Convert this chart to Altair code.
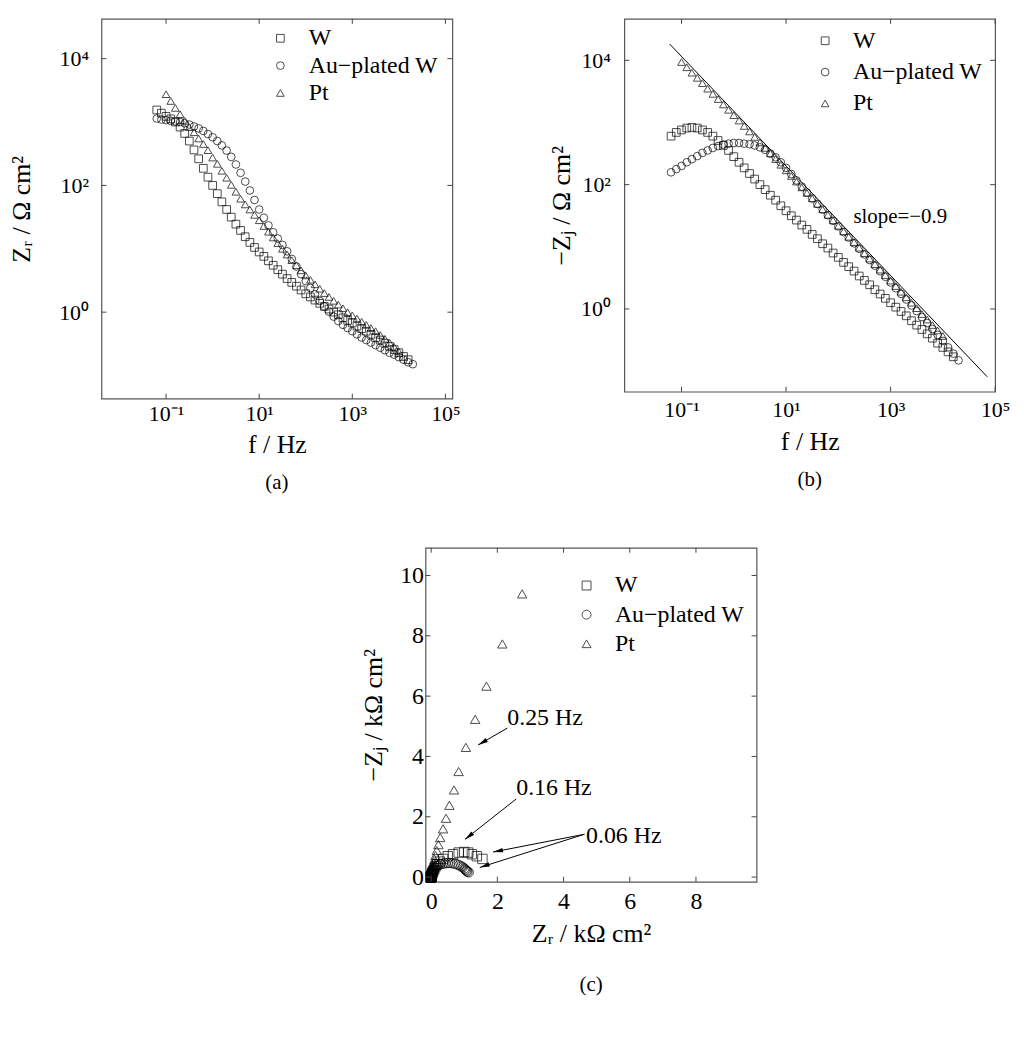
import altair as alt
import pandas as pd

FONT = "Liberation Serif"
SERIES = ["W", "Au−plated W", "Pt"]
SHAPES = ["square", "circle", "triangle-up"]

# frequencies, Hz (10 points per decade)
FREQ = [0.0631, 0.0794, 0.1, 0.126, 0.158, 0.200, 0.251, 0.316, 0.398, 0.501, 0.631, 0.794,
        1.00, 1.26, 1.58, 2.00, 2.51, 3.16, 3.98, 5.01, 6.31, 7.94,
        10.0, 12.6, 15.8, 20.0, 25.1, 31.6, 39.8, 50.1, 63.1, 79.4,
        100, 126, 158, 200, 251, 316, 398, 501, 631, 794,
        1000, 1259, 1585, 1995, 2512, 3162, 3981, 5012, 6310, 7943,
        10000, 12589, 15849, 19953]
FREQ_W = FREQ[0:55]
FREQ_AU = FREQ[0:56]
FREQ_PT = FREQ[2:53]

# W (ohm cm^2)
ZR_W = [1549, 1380, 1230, 1122, 1000, 832, 661, 501, 363, 263, 186, 135,
        100, 74.1, 55.0, 41.7, 31.6, 24.5, 19.5, 15.5, 12.6, 10.5,
        8.91, 7.59, 6.46, 5.50, 4.68, 3.98, 3.39, 2.95, 2.57, 2.24,
        1.95, 1.74, 1.55, 1.38, 1.23, 1.12, 1.00, 0.912, 0.813, 0.741,
        0.676, 0.603, 0.550, 0.501, 0.447, 0.398, 0.363, 0.324, 0.288, 0.257,
        0.229, 0.200, 0.178]
ZJ_W = [603, 692, 759, 813, 832, 813, 759, 692, 603, 513, 427, 355,
        282, 229, 186, 151, 123, 100, 83.2, 67.6, 56.2, 45.7,
        38.0, 31.6, 26.9, 22.4, 19.1, 15.8, 13.5, 11.2, 9.55, 7.94,
        6.76, 5.62, 4.79, 4.07, 3.39, 2.88, 2.45, 2.04, 1.74, 1.48,
        1.26, 1.07, 0.912, 0.776, 0.646, 0.550, 0.468, 0.398, 0.339, 0.282,
        0.240, 0.204, 0.170]

# Au-plated W
ZR_AU = [1135, 1096, 1072, 1047, 1023, 1000, 955, 912, 851, 794, 724, 646,
         575, 501, 427, 355, 282, 214, 158, 115, 83.2, 58.9,
         41.7, 30.9, 23.4, 18.2, 14.5, 11.5, 9.12, 6.92, 5.25, 3.98,
         3.09, 2.40, 1.91, 1.51, 1.23, 1.02, 0.851, 0.724, 0.631, 0.562,
         0.501, 0.447, 0.398, 0.363, 0.331, 0.302, 0.275, 0.251, 0.229, 0.214,
         0.195, 0.178, 0.162, 0.151]
ZJ_AU = [158, 178, 200, 229, 257, 288, 324, 355, 389, 417, 442, 457,
         468, 468, 457, 447, 427, 398, 363, 316, 275, 229,
         186, 148, 117, 92.9, 74.6, 60.1, 48.9, 39.7, 32.3, 26.2,
         21.3, 17.3, 14.1, 11.4, 9.29, 7.55, 6.14, 4.98, 4.05, 3.29,
         2.67, 2.16, 1.75, 1.42, 1.14, 0.925, 0.741, 0.594, 0.476, 0.382,
         0.306, 0.241, 0.191, 0.149]

# Pt
ZR_PT = [2750, 2150, 1670, 1330, 1050, 830, 690, 550, 450, 360,
         275, 219, 170, 132, 102, 79.4, 61.7, 50.1, 41.7, 34.3,
         28.2, 22.9, 18.6, 15.1, 12.3, 10.0, 8.13, 6.61, 5.50, 4.57,
         3.80, 3.24, 2.75, 2.34, 2.00, 1.74, 1.51, 1.32, 1.15, 1.00,
         0.891, 0.794, 0.708, 0.631, 0.562, 0.501, 0.437, 0.380, 0.331, 0.282,
         0.240]
ZJ_PT = [9390, 7730, 6330, 5230, 4300, 3500, 2890, 2380, 1950, 1600,
         1310, 1075, 880, 718, 586, 478, 390, 318, 258, 209,
         170, 138, 112, 90.4, 73.6, 60.1, 49.1, 40.1, 32.7, 26.7,
         21.8, 17.8, 14.5, 11.9, 9.68, 7.91, 6.46, 5.26, 4.30, 3.51,
         2.86, 2.34, 1.89, 1.54, 1.26, 1.03, 0.828, 0.676, 0.552, 0.451,
         0.368]

# slope = -0.9 guide line (panel b)
SLOPE_F = [0.0593, 70800]
SLOPE_Z = [18280, 0.081]
SLOPE_TEXT = ["slope=−0.9"]
SLOPE_TEXT_F = [1531]
SLOPE_TEXT_Z = [30.1]

# Nyquist annotations (panel c), kOhm cm^2
NOTE_TEXT = ["0.25 Hz", "0.16 Hz", "0.06 Hz"]
NOTE_X = [2.30, 2.57, 4.68]
NOTE_Y = [5.27, 2.96, 1.36]
ARROW_X1 = [2.30, 2.57, 4.63, 4.63]
ARROW_Y1 = [4.94, 2.59, 1.42, 1.42]
ARROW_X2 = [1.42, 1.02, 1.87, 1.47]
ARROW_Y2 = [4.38, 1.25, 0.83, 0.32]
ARROW_ANGLE = [240, 232, 259, 252]

XLOG_TICKS = [0.1, 10, 1000, 100000]
YLOG_TICKS = [1, 100, 10000]
XC_TICKS = [0, 2, 4, 6, 8]
YC_TICKS = [0, 2, 4, 6, 8, 10]

rows = []
for name, fs, zr, zj in [(SERIES[0], FREQ_W, ZR_W, ZJ_W),
                         (SERIES[1], FREQ_AU, ZR_AU, ZJ_AU),
                         (SERIES[2], FREQ_PT, ZR_PT, ZJ_PT)]:
    assert len(fs) == len(zr) == len(zj), (name, len(fs), len(zr), len(zj))
    for f, r, j in zip(fs, zr, zj):
        rows.append({"series": name, "f": f, "zr": r, "zj": j,
                     "zr_k": r / 1000.0, "zj_k": j / 1000.0})
df = pd.DataFrame(rows)

LOG_LABELS = ("datum.value < 0.5 ? '10⁻¹' : datum.value < 5 ? '10⁰' : "
              "datum.value < 50 ? '10¹' : datum.value < 500 ? '10²' : "
              "datum.value < 5000 ? '10³' : datum.value < 50000 ? '10⁴' : '10⁵'")

shape_scale = alt.Scale(domain=SERIES, range=SHAPES)
TICK_LEN = 5
LABEL_FS = 22
TITLE_FS = 26


def legend(x, y, row_pad, label_offset, size):
    return alt.Legend(title=None, orient="none", legendX=x, legendY=y,
                      labelFont=FONT, labelFontSize=24, labelColor="black",
                      symbolSize=size, symbolStrokeWidth=1, symbolStrokeColor="black",
                      symbolFillColor="transparent", rowPadding=row_pad,
                      labelOffset=label_offset, padding=0)


def frame_ticks(xvals, yvals, xscale, yscale, xaxis, yaxis, w, h):
    tx = pd.DataFrame({"v": xvals})
    ty = pd.DataFrame({"v": yvals})
    sty = dict(color="#444", strokeWidth=1)
    xe = alt.X("v:Q", scale=xscale, axis=xaxis)
    ye = alt.Y("v:Q", scale=yscale, axis=yaxis)
    return [
        alt.Chart(tx).mark_rule(**sty).encode(x=xe, y=alt.value(h), y2=alt.value(h - TICK_LEN)),
        alt.Chart(tx).mark_rule(**sty).encode(x=xe, y=alt.value(0), y2=alt.value(TICK_LEN)),
        alt.Chart(ty).mark_rule(**sty).encode(y=ye, x=alt.value(0), x2=alt.value(TICK_LEN)),
        alt.Chart(ty).mark_rule(**sty).encode(y=ye, x=alt.value(w), x2=alt.value(w - TICK_LEN)),
    ]


def caption(txt, offset):
    return alt.TitleParams(txt, orient="bottom", font=FONT, fontSize=21,
                           fontWeight="normal", color="black", offset=offset, anchor="middle")


def x_axis(title, values, expr, lpad, tpad, lfs=LABEL_FS):
    kw = dict(values=values, title=title, labelFlush=False, labelOverlap=False,
              labelPadding=lpad, titlePadding=tpad, labelFontSize=lfs)
    if expr:
        kw["labelExpr"] = expr
    return alt.Axis(**kw)


def y_axis(title, values, expr, lpad, tpad, lfs=LABEL_FS):
    kw = dict(values=values, title=title, labelOverlap=False,
              labelPadding=lpad, titlePadding=tpad, labelFontSize=lfs)
    if expr:
        kw["labelExpr"] = expr
    return alt.Axis(**kw)


# ---------- panel (a) ----------
WA, HA = 353, 382
xa = alt.Scale(type="log", domain=[0.00409, 141000], nice=False)
ya = alt.Scale(type="log", domain=[0.0432, 42400], nice=False)
xa_axis = x_axis("f / Hz", XLOG_TICKS, LOG_LABELS, 5, 7.5)
ya_axis = y_axis("Zᵣ / Ω cm²", YLOG_TICKS, LOG_LABELS, 13, 24)
pts_a = alt.Chart(df).mark_point(filled=False, color="black", strokeWidth=1, size=60).encode(
    x=alt.X("f:Q", scale=xa, axis=xa_axis),
    y=alt.Y("zr:Q", scale=ya, axis=ya_axis),
    shape=alt.Shape("series:N", scale=shape_scale, legend=legend(168, 7.5, 3.5, 16.5, 60)),
)
panel_a = alt.layer(pts_a, *frame_ticks(XLOG_TICKS, YLOG_TICKS, xa, ya, xa_axis, ya_axis, WA, HA)).properties(
    width=WA, height=HA, title=caption("(a)", 14.5))

# ---------- panel (b) ----------
WB, HB = 373, 375
xb = alt.Scale(type="log", domain=[0.00805, 100000], nice=False)
yb = alt.Scale(type="log", domain=[0.0467, 46400], nice=False)
xb_axis = x_axis("f / Hz", XLOG_TICKS, LOG_LABELS, 8, 7.7)
yb_axis = y_axis("−Zⱼ / Ω cm²", YLOG_TICKS, LOG_LABELS, 14, 6)
pts_b = alt.Chart(df).mark_point(filled=False, color="black", strokeWidth=1, size=60).encode(
    x=alt.X("f:Q", scale=xb, axis=xb_axis),
    y=alt.Y("zj:Q", scale=yb, axis=yb_axis),
    shape=alt.Shape("series:N", scale=shape_scale, legend=legend(190, 10, 7.5, 16, 60)),
)
slope_line = alt.Chart(pd.DataFrame({"f": SLOPE_F, "z": SLOPE_Z})).mark_line(
    color="black", strokeWidth=1).encode(x=alt.X("f:Q", scale=xb, axis=xb_axis),
                                         y=alt.Y("z:Q", scale=yb, axis=yb_axis))
slope_txt = alt.Chart(pd.DataFrame({"t": SLOPE_TEXT, "f": SLOPE_TEXT_F, "z": SLOPE_TEXT_Z})).mark_text(
    font=FONT, fontSize=21, color="black", align="center", baseline="middle").encode(
    x=alt.X("f:Q", scale=xb, axis=xb_axis), y=alt.Y("z:Q", scale=yb, axis=yb_axis), text="t:N")
panel_b = alt.layer(pts_b, slope_line, slope_txt,
                    *frame_ticks(XLOG_TICKS, YLOG_TICKS, xb, yb, xb_axis, yb_axis, WB, HB)).properties(
    width=WB, height=HB, title=caption("(b)", 15))

# ---------- panel (c) ----------
WC, HC = 333, 336
xc = alt.Scale(domain=[-0.17, 9.83], nice=False, zero=False)
yc = alt.Scale(domain=[-0.155, 10.92], nice=False, zero=False)
xc_axis = x_axis("Zᵣ / kΩ cm²", XC_TICKS, None, 8, 7, 24)
yc_axis = y_axis("−Zⱼ / kΩ cm²", YC_TICKS, None, 2, 13, 24)
pts_c = alt.Chart(df).mark_point(filled=False, color="black", strokeWidth=1, size=90).encode(
    x=alt.X("zr_k:Q", scale=xc, axis=xc_axis),
    y=alt.Y("zj_k:Q", scale=yc, axis=yc_axis),
    shape=alt.Shape("series:N", scale=shape_scale, legend=legend(150, 26, 5.3, 16.5, 80)),
)
arrows = pd.DataFrame({"x1": ARROW_X1, "y1": ARROW_Y1, "x2": ARROW_X2, "y2": ARROW_Y2,
                       "ang": ARROW_ANGLE})
arrow_lines = alt.Chart(arrows).mark_rule(color="black", strokeWidth=1).encode(
    x=alt.X("x1:Q", scale=xc, axis=xc_axis), y=alt.Y("y1:Q", scale=yc, axis=yc_axis),
    x2="x2:Q", y2="y2:Q")
arrow_heads = alt.Chart(arrows).mark_point(
    shape="M0,0L0.45,2L-0.45,2Z", filled=True, color="black", opacity=1, size=100).encode(
    x=alt.X("x2:Q", scale=xc, axis=xc_axis), y=alt.Y("y2:Q", scale=yc, axis=yc_axis),
    angle=alt.Angle("ang:Q", scale=None))
notes = alt.Chart(pd.DataFrame({"t": NOTE_TEXT, "x": NOTE_X, "y": NOTE_Y})).mark_text(
    font=FONT, fontSize=24, color="black", align="left", baseline="middle").encode(
    x=alt.X("x:Q", scale=xc, axis=xc_axis), y=alt.Y("y:Q", scale=yc, axis=yc_axis), text="t:N")
panel_c = alt.layer(pts_c, arrow_lines, arrow_heads, notes,
                    *frame_ticks(XC_TICKS, YC_TICKS, xc, yc, xc_axis, yc_axis, WC, HC)).properties(
    width=WC, height=HC, title=caption("(c)", 27.5))

spacer = alt.Chart(pd.DataFrame({"v": [0]})).mark_point(opacity=0).encode(
    x=alt.X("v:Q", axis=None), y=alt.Y("v:Q", axis=None)).properties(
    width=259, height=10, view=alt.ViewBackground(stroke="transparent"))

top = alt.hconcat(panel_a, panel_b, spacing=87).resolve_scale(
    x="independent", y="independent", shape="independent").resolve_legend(shape="independent")
bottom = alt.hconcat(spacer, panel_c, spacing=0).resolve_scale(
    x="independent", y="independent", shape="independent").resolve_legend(shape="independent")
chart = alt.vconcat(top, bottom, spacing=52).resolve_scale(
    x="independent", y="independent", shape="independent").resolve_legend(shape="independent")

chart = chart.properties(
    padding={"left": 0, "top": 6, "right": 5, "bottom": 5}
).configure(font=FONT).configure_view(
    stroke="#555", strokeWidth=1.2
).configure_axis(
    labelFont=FONT, labelColor="black",
    titleFont=FONT, titleFontSize=TITLE_FS, titleFontWeight="normal", titleColor="black",
    ticks=False, domain=False, grid=False,
)

chart.save("out.html", embed_options={"renderer": "svg", "actions": False})
